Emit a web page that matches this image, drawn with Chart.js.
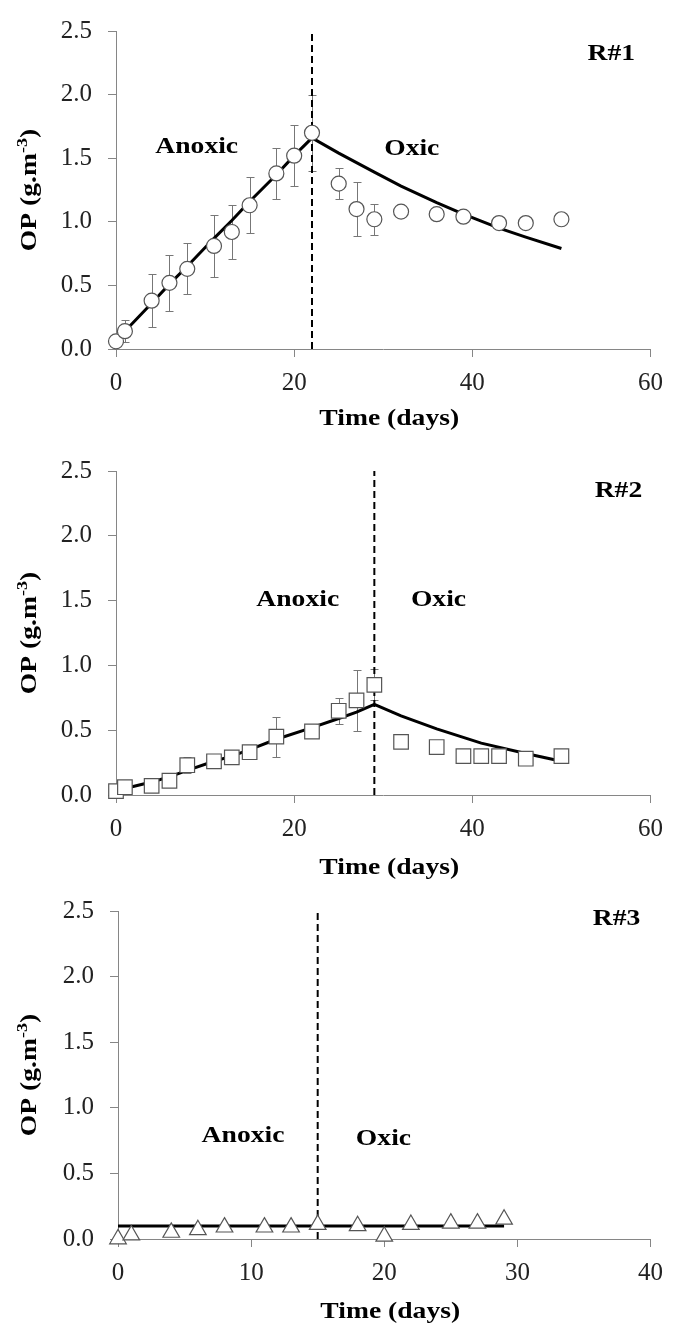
<!DOCTYPE html>
<html>
<head>
<meta charset="utf-8">
<script src="https://cdn.jsdelivr.net/npm/chart.js@4.4.1/dist/chart.umd.min.js"></script>
<style>
  body { margin: 0; background: #fff; }
  canvas { display: block; }
</style>
</head>
<body>
<canvas id="r1" width="674" height="440"></canvas>
<canvas id="r2" width="674" height="440"></canvas>
<canvas id="r3" width="674" height="448"></canvas>
<script>
// ---- R#1 : measured (circles), error bars, model line
const r1Days = [0, 1, 4, 6, 8, 11, 13, 15, 18, 20, 22, 25, 27, 29, 32, 36, 39, 43, 46, 50];
const r1OP   = [0.06, 0.14, 0.38, 0.52, 0.63, 0.81, 0.92, 1.13, 1.38, 1.52, 1.70, 1.30, 1.10, 1.02, 1.08, 1.06, 1.04, 0.99, 0.99, 1.02];
const r1Err  = [0, 0.085, 0.21, 0.22, 0.2, 0.245, 0.21, 0.22, 0.2, 0.24, 0.3, 0.12, 0.21, 0.12, 0, 0, 0, 0, 0, 0];
const r1ModelDays = [0, 1, 4, 6, 8, 11, 13, 15, 18, 20, 22, 25, 29, 32, 36, 39, 43, 46, 50];
const r1ModelOP   = [0.07, 0.14, 0.36, 0.51, 0.65, 0.87, 1.01, 1.16, 1.37, 1.52, 1.66, 1.54, 1.39, 1.28, 1.15, 1.06, 0.95, 0.88, 0.79];
const r1Switch = 22;

// ---- R#2 : squares
const r2Days = [0, 1, 4, 6, 8, 11, 13, 15, 18, 22, 25, 27, 29, 32, 36, 39, 41, 43, 46, 50];
const r2OP   = [0.03, 0.06, 0.07, 0.11, 0.23, 0.26, 0.29, 0.33, 0.45, 0.49, 0.65, 0.73, 0.85, 0.41, 0.37, 0.30, 0.30, 0.30, 0.28, 0.30];
const r2Err  = [0, 0, 0, 0, 0.06, 0, 0, 0, 0.155, 0, 0.1, 0.235, 0.12, 0, 0, 0, 0, 0, 0, 0];
const r2ModelDays = [0, 1, 4, 6, 8, 11, 13, 15, 18, 22, 25, 27, 29, 32, 36, 41, 46, 50];
const r2ModelOP   = [0.03, 0.05, 0.10, 0.14, 0.19, 0.26, 0.30, 0.35, 0.43, 0.52, 0.59, 0.64, 0.70, 0.61, 0.51, 0.40, 0.32, 0.26];
const r2Switch = 29;

// ---- R#3 : triangles
const r3Days = [0, 1, 4, 6, 8, 11, 13, 15, 18, 20, 22, 25, 27, 29];
const r3OP   = [0.0, 0.03, 0.05, 0.07, 0.09, 0.09, 0.09, 0.11, 0.10, 0.02, 0.11, 0.12, 0.12, 0.15];
const r3ModelDays = [0, 29];
const r3ModelOP   = [0.1, 0.1];
const r3Switch = 15;

const yTickStep = 0.5;
const yMax = 2.5;

Chart.defaults.font.family = '"Liberation Serif", "Times New Roman", serif';
Chart.defaults.color = '#111';

function pts(xs, ys) {
  return xs.map((d, i) => ({ x: d, y: ys[i] }));
}

// text a bit wider than the font gives, like the original figure
function wideText(ctx, text, x, y, size) {
  ctx.save();
  ctx.font = 'bold ' + size + 'px "Liberation Serif"';
  ctx.fillStyle = '#000';
  ctx.translate(x, y);
  ctx.scale(1.2, 1);
  ctx.textAlign = 'center';
  ctx.textBaseline = 'alphabetic';
  ctx.fillText(text, 0, 0);
  ctx.restore();
}

const errorBars = {
  id: 'errorBars',
  beforeDatasetsDraw(chart) {
    const { ctx, scales: { x, y } } = chart;
    ctx.save();
    ctx.strokeStyle = '#777';
    ctx.lineWidth = 1;
    chart.data.datasets.forEach(ds => {
      if (!ds.errors) return;
      ds.data.forEach((p, i) => {
        const e = ds.errors[i];
        if (!e) return;
        const px = Math.round(x.getPixelForValue(p.x)) + 0.5;
        const top = Math.round(y.getPixelForValue(p.y + e)) + 0.5;
        const bot = Math.round(y.getPixelForValue(p.y - e)) + 0.5;
        ctx.beginPath();
        ctx.moveTo(px, top); ctx.lineTo(px, bot);
        ctx.moveTo(px - 4, top); ctx.lineTo(px + 4, top);
        ctx.moveTo(px - 4, bot); ctx.lineTo(px + 4, bot);
        ctx.stroke();
      });
    });
    ctx.restore();
  }
};

const notes = {
  id: 'notes',
  afterDraw(chart, args, opts) {
    const { ctx, chartArea, scales: { x, y } } = chart;
    (opts.labels || []).forEach(l => {
      wideText(ctx, l.text, x.getPixelForValue(l.x), y.getPixelForValue(l.y), 23);
    });
    // x title
    wideText(ctx, 'Time (days)', (chartArea.left + chartArea.right) / 2 + 6, chartArea.bottom + opts.xTitleGap, 23);
    // y title with superscript
    ctx.save();
    const big = 'bold 23px "Liberation Serif"';
    const small = 'bold 15px "Liberation Serif"';
    ctx.font = big;
    const w1 = ctx.measureText('OP (g.m').width;
    const w3 = ctx.measureText(')').width;
    ctx.font = small;
    const w2 = ctx.measureText('-3').width;
    const total = w1 + w2 + w3;
    ctx.translate(36, (chartArea.top + chartArea.bottom) / 2);
    ctx.rotate(-Math.PI / 2);
    ctx.scale(1.2, 1);
    ctx.fillStyle = '#000';
    ctx.textAlign = 'left';
    ctx.textBaseline = 'alphabetic';
    let cx = -total / 2;
    ctx.font = big;
    ctx.fillText('OP (g.m', cx, 0);
    cx += w1;
    ctx.font = small;
    ctx.fillText('-3', cx, -9);
    cx += w2;
    ctx.font = big;
    ctx.fillText(')', cx, 0);
    ctx.restore();
  }
};

function opChart(id, p) {
  return new Chart(document.getElementById(id), {
    type: 'scatter',
    data: {
      datasets: [
        {
          label: 'measured',
          data: pts(p.days, p.op),
          errors: p.err,
          pointStyle: p.style,
          pointRadius: p.radius,
          pointBorderColor: '#555',
          pointBackgroundColor: '#fff',
          pointBorderWidth: 1.2,
          clip: false,
          order: 0
        },
        {
          label: 'model',
          data: pts(p.modelDays, p.modelOP),
          showLine: true,
          borderColor: '#000',
          borderWidth: 3,
          pointRadius: 0,
          clip: false,
          order: 1
        },
        {
          label: 'switch',
          data: [{ x: p.switchDay, y: 0 }, { x: p.switchDay, y: yMax }],
          showLine: true,
          borderColor: '#000',
          borderWidth: 2,
          borderDash: [7, 4],
          pointRadius: 0,
          order: 2
        }
      ]
    },
    options: {
      responsive: false,
      animation: false,
      layout: { padding: { top: p.top, right: p.right, left: 0, bottom: 0 } },
      plugins: {
        legend: { display: false },
        tooltip: { enabled: false },
        notes: { labels: p.labels, xTitleGap: p.xTitleGap }
      },
      scales: {
        x: {
          type: 'linear',
          min: 0,
          max: p.xMax,
          afterFit(scale) { scale.height = p.xHeight; },
          ticks: {
            stepSize: p.xStep,
            padding: 11,
            color: '#222',
            font: { size: 25 }
          },
          grid: { drawOnChartArea: false, drawTicks: true, tickLength: 8, color: '#868686' },
          border: { color: '#868686', width: 1 }
        },
        y: {
          min: 0,
          max: yMax,
          afterFit(scale) { scale.width = p.left; },
          ticks: {
            stepSize: yTickStep,
            padding: 16,
            color: '#222',
            font: { size: 25 },
            callback: v => v.toFixed(1)
          },
          grid: { drawOnChartArea: false, drawTicks: true, tickLength: 8, color: '#868686' },
          border: { color: '#868686', width: 1 }
        }
      }
    },
    plugins: [errorBars, notes]
  });
}

opChart('r1', {
  days: r1Days, op: r1OP, err: r1Err,
  modelDays: r1ModelDays, modelOP: r1ModelOP, switchDay: r1Switch,
  style: 'circle', radius: 7.5,
  xMax: 60, xStep: 20,
  top: 20, right: 18, left: 116, xHeight: 91, xTitleGap: 76,
  labels: [
    { text: 'Anoxic', x: 9.06, y: 1.54 },
    { text: 'Oxic', x: 33.2, y: 1.525 },
    { text: 'R#1', x: 55.6, y: 2.27 }
  ]
});

opChart('r2', {
  days: r2Days, op: r2OP, err: r2Err,
  modelDays: r2ModelDays, modelOP: r2ModelOP, switchDay: r2Switch,
  style: 'rect', radius: 10.3,
  xMax: 60, xStep: 20,
  top: 25, right: 19, left: 116, xHeight: 85, xTitleGap: 79,
  labels: [
    { text: 'Anoxic', x: 20.4, y: 1.46 },
    { text: 'Oxic', x: 36.2, y: 1.46 },
    { text: 'R#2', x: 56.4, y: 2.30 }
  ]
});

opChart('r3', {
  days: r3Days, op: r3OP, err: null,
  modelDays: r3ModelDays, modelOP: r3ModelOP, switchDay: r3Switch,
  style: 'triangle', radius: 9.6,
  xMax: 40, xStep: 10,
  top: 31, right: 18, left: 118, xHeight: 89, xTitleGap: 79,
  labels: [
    { text: 'Anoxic', x: 9.39, y: 0.74 },
    { text: 'Oxic', x: 19.94, y: 0.72 },
    { text: 'R#3', x: 37.45, y: 2.39 }
  ]
});
</script>
</body>
</html>
